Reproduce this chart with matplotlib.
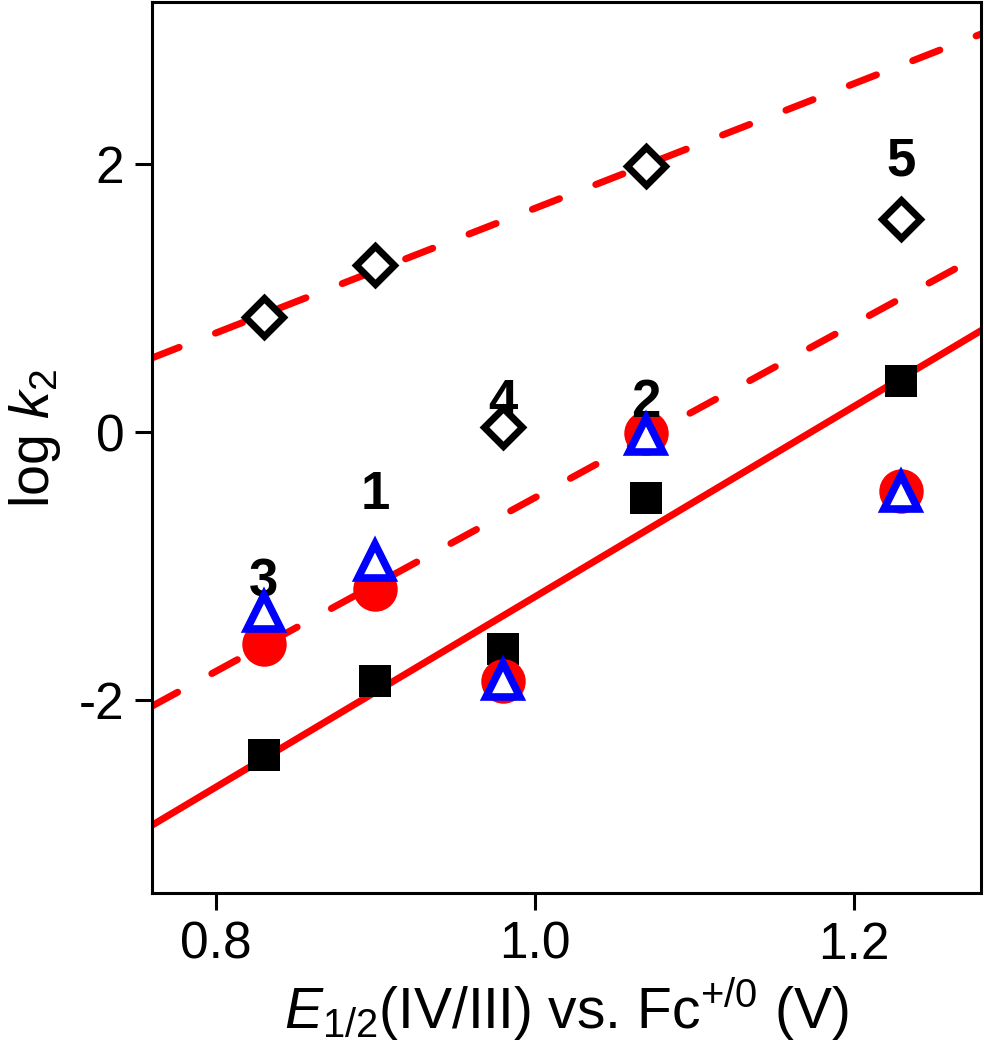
import numpy as np
import matplotlib
matplotlib.use('Agg')
import matplotlib.pyplot as plt

plt.rcParams['font.family'] = ['Liberation Sans', 'DejaVu Sans']
plt.rcParams['mathtext.fontset'] = 'custom'
plt.rcParams['mathtext.rm'] = 'Liberation Sans'
plt.rcParams['mathtext.it'] = 'Liberation Sans:italic'
plt.rcParams['mathtext.bf'] = 'Liberation Sans:bold'

# E1/2(IV/III) vs Fc for compounds 3, 1, 4, 2, 5
e_half = [0.83, 0.90, 0.98, 1.07, 1.23]
compound = ['3', '1', '4', '2', '5']
label_y = [-1.12, -0.47, 0.22, 0.22, 2.02]

logk_diamond = [0.86, 1.25, 0.04, 1.99, 1.59]
logk_circle = [-1.58, -1.17, -1.86, -0.01, -0.44]
logk_triangle = [-1.34, -0.96, -1.85, -0.02, -0.45]
logk_square = [-2.41, -1.86, -1.62, -0.49, 0.38]

# fitted lines: (intercept, slope)
fit_upper = (-2.98, 4.65)
fit_mid = (-6.97, 6.48)
fit_low = (-8.33, 7.10)

xlim = (0.76, 1.28)
ylim = (-3.44, 3.21)

fig = plt.figure(figsize=(9.84, 10.5), dpi=100)
ax = fig.add_axes([0.1545, 0.1495, 0.8425, 0.8485])

xx = np.array(xlim)
dash = (0, (4.2, 5.6))
ax.plot(xx, fit_upper[0] + fit_upper[1] * xx, color='red', lw=5,
        linestyle=dash, dash_capstyle='round', zorder=1)
ax.plot(xx, fit_mid[0] + fit_mid[1] * xx, color='red', lw=5,
        linestyle=dash, dash_capstyle='round', zorder=1)
ax.plot(xx, fit_low[0] + fit_low[1] * xx, color='red', lw=5, zorder=1)

ax.plot(e_half, logk_square, 's', color='black', ms=23, mew=0, ls='none', zorder=2)
ax.plot(e_half, logk_circle, 'o', color='red', ms=32, mew=0, ls='none', zorder=3)
ax.plot(e_half, logk_triangle, '^', mfc='white', mec='blue', ms=25, mew=5.5,
        ls='none', zorder=4)
ax.plot(e_half, logk_diamond, 'D', mfc='white', mec='black', ms=19, mew=5,
        ls='none', zorder=4)

for x, y, t in zip(e_half, label_y, compound):
    ax.text(x, y, t, fontsize=38, fontweight='bold', ha='center', va='center')

ax.set_xlim(xlim)
ax.set_ylim(ylim)
ax.set_xticks([0.8, 1.0, 1.2])
ax.set_xticklabels(['0.8', '1.0', '1.2'])
ax.set_yticks([-2, 0, 2])
ax.set_yticklabels(['-2', '0', '2'])
ax.tick_params(direction='out', length=12, width=2.2, labelsize=37, pad=8)
for s in ax.spines.values():
    s.set_linewidth(2.2)

ax.set_xlabel(r'$E_{\mathrm{1/2}}$(IV/III) vs. Fc$^{\mathrm{+/0}}$ (V)', fontsize=41, labelpad=4)
ax.set_ylabel(r'log $k_{\mathrm{2}}$', fontsize=40)
ax.yaxis.set_label_coords(-0.107, 0.51)

fig.savefig('out.png', dpi=100)
